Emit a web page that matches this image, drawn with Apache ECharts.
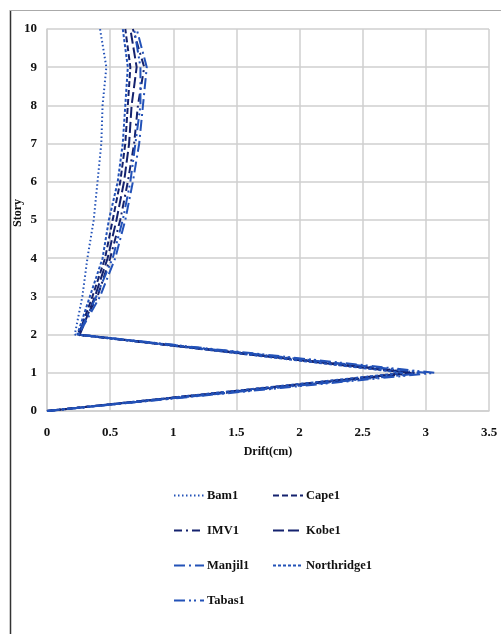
<!DOCTYPE html>
<html>
<head>
<meta charset="utf-8">
<script src="https://cdn.jsdelivr.net/npm/echarts@6/dist/echarts.min.js"></script>
<style>
  html, body { margin: 0; padding: 0; background: #fff; }
  #chart { width: 501px; height: 634px; }
</style>
</head>
<body>
<div id="chart"></div>
<script>
// Story levels (0 = base, 10 = roof)
const stories = [0, 1, 2, 3, 4, 5, 6, 7, 8, 9, 10];

// Inter-story drift (cm) per record, listed from story 0 up to story 10
const bam1        = [0, 2.95, 0.22, 0.28, 0.32, 0.37, 0.40, 0.43, 0.44, 0.47, 0.42];
const cape1       = [0, 2.88, 0.25, 0.36, 0.46, 0.52, 0.58, 0.62, 0.64, 0.66, 0.62];
const imv1        = [0, 2.92, 0.24, 0.40, 0.50, 0.58, 0.64, 0.69, 0.72, 0.77, 0.68];
const kobe1       = [0, 2.85, 0.26, 0.38, 0.48, 0.55, 0.61, 0.65, 0.67, 0.71, 0.66];
const manjil1     = [0, 3.00, 0.25, 0.42, 0.54, 0.62, 0.68, 0.73, 0.76, 0.79, 0.71];
const northridge1 = [0, 2.82, 0.24, 0.34, 0.44, 0.49, 0.56, 0.60, 0.62, 0.64, 0.60];
const tabas1      = [0, 3.07, 0.25, 0.39, 0.52, 0.60, 0.66, 0.70, 0.74, 0.74, 0.69];

const xTicks = [0, 0.5, 1, 1.5, 2, 2.5, 3, 3.5];
const yTicks = [0, 1, 2, 3, 4, 5, 6, 7, 8, 9, 10];

const BLUE = '#2352b8';
const NAVY = '#14226e';
const GRID = '#cfcfcf';
const FONT = '"Liberation Serif", "DejaVu Serif", serif';

function mk(name, values, color, dash) {
  return {
    name: name,
    type: 'line',
    symbol: 'none',
    data: values.map((v, i) => [v, stories[i]]),
    lineStyle: { color: color, width: 2, type: dash },
    itemStyle: { color: color },
    emphasis: { disabled: true },
    z: 3
  };
}

const series = [
  mk('Bam1', bam1, BLUE, [1.5, 2.5]),
  mk('Cape1', cape1, NAVY, [6, 3]),
  mk('IMV1', imv1, NAVY, [8, 4, 2, 4]),
  mk('Kobe1', kobe1, NAVY, [11, 4]),
  mk('Manjil1', manjil1, BLUE, [11, 4, 2, 4]),
  mk('Northridge1', northridge1, BLUE, [3, 2]),
  mk('Tabas1', tabas1, BLUE, [11, 4, 2, 3, 2, 4])
];

const labelStyle = {
  color: '#111',
  fontFamily: FONT,
  fontWeight: 'bold',
  fontSize: 13
};

// Legend keys show only the dash pattern, no point marker
const legendBase = {
  orient: 'vertical',
  padding: 0,
  itemWidth: 30,
  itemHeight: 4,
  itemGap: 22,
  selectedMode: false,
  itemStyle: { opacity: 0 },
  textStyle: { color: '#111', fontFamily: FONT, fontWeight: 'bold', fontSize: 12.5, padding: [0, 0, 0, -2] }
};

const option = {
  animation: false,
  backgroundColor: '#fff',
  grid: { left: 47, right: 12, top: 29, bottom: 223, containLabel: false, outerBoundsMode: 'none' },
  xAxis: {
    type: 'value',
    min: 0, max: 3.5, interval: 0.5,
    name: 'Drift(cm)',
    nameLocation: 'middle',
    nameGap: 35,
    nameMoveOverlap: false,
    nameTextStyle: Object.assign({}, labelStyle, { fontSize: 12 }),
    axisLine: { show: true, lineStyle: { color: GRID, width: 1.5 } },
    axisTick: { show: false },
    axisLabel: Object.assign({}, labelStyle, { margin: 15, formatter: v => String(v) }),
    splitLine: { show: true, lineStyle: { color: GRID, width: 1.5 } }
  },
  yAxis: {
    type: 'value',
    min: 0, max: 10, interval: 1,
    name: 'Story',
    nameLocation: 'middle',
    nameGap: 23,
    nameRotate: 90,
    nameMoveOverlap: false,
    nameTextStyle: Object.assign({}, labelStyle, { fontSize: 12, padding: [0, 0, 0, 14] }),
    axisLine: { show: true, lineStyle: { color: GRID, width: 1.5 } },
    axisTick: { show: false },
    axisLabel: Object.assign({}, labelStyle, { margin: 10 }),
    splitLine: { show: true, lineStyle: { color: GRID, width: 1.5 } }
  },
  legend: [
    Object.assign({}, legendBase, { left: 173, top: 489, data: ['Bam1', 'IMV1', 'Manjil1', 'Tabas1'] }),
    Object.assign({}, legendBase, { left: 272, top: 489, data: ['Cape1', 'Kobe1', 'Northridge1'] })
  ],
  graphic: [
    { type: 'line', shape: { x1: 10.5, y1: 10, x2: 10.5, y2: 634 }, style: { stroke: '#333', lineWidth: 1.5 }, silent: true },
    { type: 'line', shape: { x1: 10, y1: 10.5, x2: 501, y2: 10.5 }, style: { stroke: '#aaa', lineWidth: 1.2 }, silent: true }
  ],
  series: series
};

const chart = echarts.init(document.getElementById('chart'), null, { renderer: 'canvas' });
chart.setOption(option);
</script>
</body>
</html>
